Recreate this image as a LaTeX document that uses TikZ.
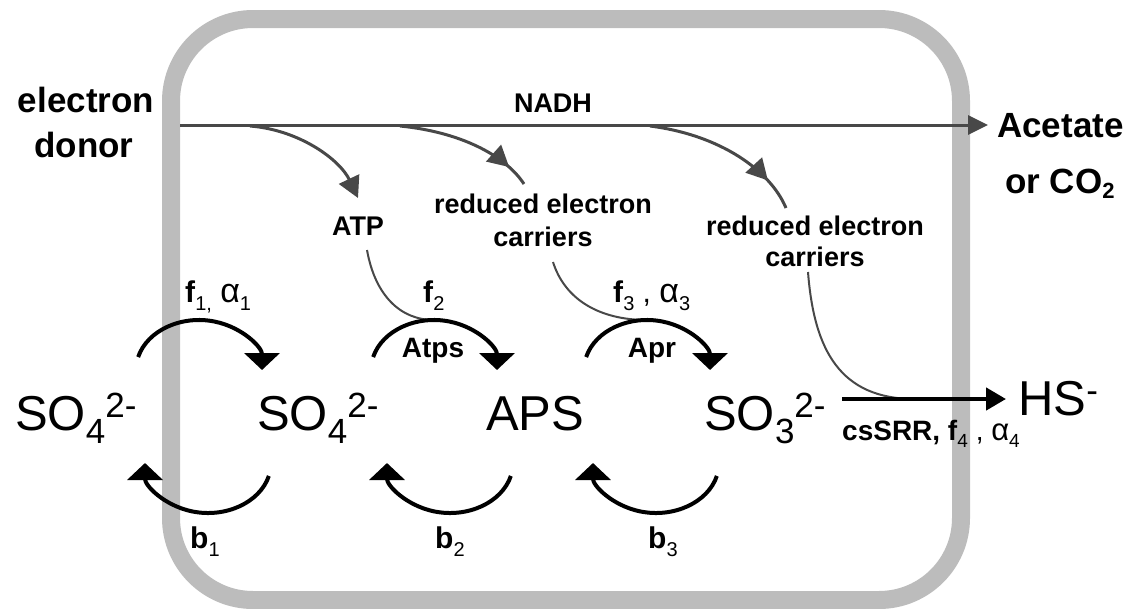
\documentclass[tikz,border=0pt]{standalone}
\usepackage{fontspec}
\setmainfont{Liberation Sans}
\usetikzlibrary{arrows.meta,decorations.markings}
\definecolor{boxgray}{RGB}{188,188,188}
\definecolor{flowgray}{RGB}{72,72,72}
\newcommand\fsz[1]{\fontsize{#1}{#1}\selectfont}
\newcommand\lo[3]{\raisebox{#1}{\fsz{#2}#3}}
\newcommand\alf[1]{{\fsz{#1}α}}
\begin{document}
\begin{tikzpicture}[x=1pt,y=1pt,
  species/.style={inner sep=0pt, anchor=base west, font=\fsz{49}},
  big/.style={inner sep=0pt, font=\fsz{35}\bfseries},
  mid/.style={inner sep=0pt, anchor=base, font=\fsz{27}\bfseries},
  rate/.style={inner sep=0pt, anchor=base west, font=\fsz{30}},
  enz/.style={inner sep=0pt, anchor=base, font=\fsz{28}\bfseries},
  rxn/.style={line width=4pt, -{Triangle[width=35pt,length=17pt]}},
  flow/.style={line width=3pt, flowgray},
  feed/.style={line width=2pt, flowgray},
  midarrow/.style={postaction={decorate, decoration={markings,
      mark=at position #1 with {\arrow{Triangle[width=22pt,length=21pt]}}}}}
]
\useasboundingbox (0,0) rectangle (1135,-608);
% cell envelope
\draw[line width=18pt, boxgray, rounded corners=82pt] (171,-19) rectangle (961,-600);

% text labels
\node[big, anchor=base] (elec) at (86,-112) {electron};
\node[big, anchor=base] (donor) at (84,-157) {donor};
\node[big, anchor=base west] (acet) at (997,-137) {Acetate};
\node[big, anchor=base west] (orco) at (1005,-193) {or CO\lo{-5pt}{22}{2}};
\node[mid] (nadh) at (553,-112) {NADH};
\node[mid] (atp) at (358,-235) {ATP};
\node[mid] (rec1a) at (543,-213) {reduced electron};
\node[mid] (rec1b) at (543,-246) {carriers};
\node[mid] (rec2a) at (815,-235) {reduced electron};
\node[mid] (rec2b) at (815,-266) {carriers};

% species
\node[species] (so4out) at (15,-430) {SO\lo{-13pt}{35}{4}\lo{13pt}{35}{2-}};
\node[species] (so4in) at (257,-430) {SO\lo{-13pt}{35}{4}\lo{13pt}{35}{2-}};
\node[species] (aps) at (486,-430) {APS};
\node[species] (so3) at (704,-430) {SO\lo{-13pt}{35}{3}\lo{13pt}{35}{2-}};
\node[species] (hs) at (1018,-415) {HS\lo{13pt}{35}{-}};

% coordinates
\coordinate (nstart) at (180,-125);
\coordinate (nend) at (988,-125);
\coordinate (b1s) at (250,-126);
\coordinate (b1e) at (358,-198);
\coordinate (b2s) at (400,-126);
\coordinate (b2e) at (524,-184);
\coordinate (b3s) at (650,-126);
\coordinate (b3e) at (786,-208);
\coordinate (atpout) at (367,-250);
\coordinate (rec1out) at (553,-262);
\coordinate (rec2out) at (808,-272);
\coordinate (atpsapex) at (434,-320);
\coordinate (aprapex) at (647,-320);
\coordinate (srrjoin) at (915,-399);
\coordinate (srrs) at (842,-399);
\coordinate (srre) at (1006,-399);

% NADH flow
\draw[flow, -{Triangle[width=19pt,length=20pt]}] (nstart) -- (nend);
\draw[flow, -{Triangle[width=22pt,length=21pt]}] (b1s) .. controls (300,-130) and (340,-160) .. (b1e);
\draw[flow, midarrow=0.84] (b2s) .. controls (460,-132) and (505,-155) .. (b2e);
\draw[flow, midarrow=0.80] (b3s) .. controls (720,-135) and (770,-170) .. (b3e);

% feeders
\draw[feed] (atpout) .. controls (375,-295) and (400,-320) .. (atpsapex);
\draw[feed] (rec1out) .. controls (565,-300) and (600,-320) .. (aprapex);
\draw[feed] (rec2out) .. controls (814,-350) and (840,-399) .. (srrjoin);

% forward arcs
\coordinate (f1s) at (138.15,-357.06);
\coordinate (f2s) at (373.15,-357.06);
\coordinate (f3s) at (586.15,-357.06);
\draw[rxn] (f1s) arc[start angle=165, end angle=0, x radius=63pt, y radius=50pt];
\draw[rxn] (f2s) arc[start angle=165, end angle=0, x radius=63pt, y radius=50pt];
\draw[rxn] (f3s) arc[start angle=165, end angle=0, x radius=63pt, y radius=50pt];
% backward arcs
\coordinate (r1s) at (268.85,-475.94);
\coordinate (r2s) at (510.85,-475.94);
\coordinate (r3s) at (716.85,-475.94);
\draw[rxn] (r1s) arc[start angle=-15, end angle=-180, x radius=63pt, y radius=50pt];
\draw[rxn] (r2s) arc[start angle=-15, end angle=-180, x radius=63pt, y radius=50pt];
\draw[rxn] (r3s) arc[start angle=-15, end angle=-180, x radius=63pt, y radius=50pt];
% sulfite reduction
\draw[line width=4.5pt, -{Triangle[width=22pt,length=20pt]}] (srrs) -- (srre);

% rate labels
\node[rate] (f1) at (185,-302) {\textbf{f}\lo{-8pt}{20}{1,}\ \alf{34}\lo{-8pt}{20}{1}};
\node[rate] (f2) at (423,-302) {\textbf{f}\lo{-8pt}{20}{2}};
\node[rate] (f3) at (613,-302) {\textbf{f}\lo{-8pt}{20}{3} , \alf{34}\lo{-8pt}{20}{3}};
\node[enz] (atps) at (433,-357) {Atps};
\node[enz] (apr) at (652,-357) {Apr};
\node[rate] (bb1) at (190,-548) {\textbf{b}\lo{-8pt}{20}{1}};
\node[rate] (bb2) at (435,-548) {\textbf{b}\lo{-8pt}{20}{2}};
\node[rate] (bb3) at (648,-548) {\textbf{b}\lo{-8pt}{20}{3}};
\node[inner sep=0pt, anchor=base west, font=\fsz{28}] (cs) at (842,-440) {\textbf{csSRR,} \textbf{f}\lo{-7pt}{19}{4} , \alf{31}\lo{-7pt}{19}{4}};
\end{tikzpicture}
\end{document}
